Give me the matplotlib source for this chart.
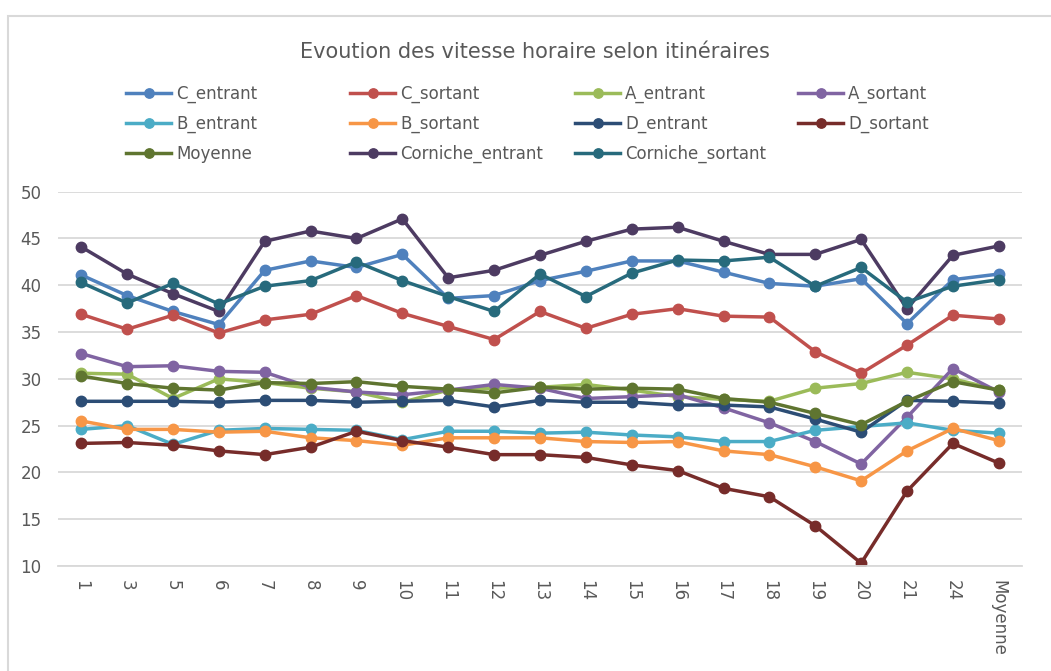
import matplotlib.pyplot as plt
from matplotlib.patches import Rectangle

# categories on the x axis
cats = ['1', '3', '5', '6', '7', '8', '9', '10', '11', '12', '13', '14',
        '15', '16', '17', '18', '19', '20', '21', '24', 'Moyenne']

C_entrant = [41.1, 38.9, 37.2, 35.8, 41.6, 42.6, 41.9, 43.3, 38.6, 38.9, 40.5,
             41.5, 42.6, 42.6, 41.4, 40.2, 39.9, 40.7, 35.9, 40.6, 41.2]
C_sortant = [36.9, 35.3, 36.8, 34.9, 36.3, 36.9, 38.9, 37.0, 35.6, 34.2, 37.2,
             35.4, 36.9, 37.5, 36.7, 36.6, 32.9, 30.6, 33.6, 36.8, 36.4]
A_entrant = [30.6, 30.5, 27.9, 30.0, 29.6, 29.0, 28.6, 27.5, 28.8, 29.0, 29.1,
             29.4, 28.8, 28.1, 27.8, 27.6, 29.0, 29.5, 30.7, 30.0, 28.8]
A_sortant = [32.7, 31.3, 31.4, 30.8, 30.7, 29.1, 28.6, 28.3, 28.8, 29.4, 29.0,
             27.9, 28.1, 28.3, 26.9, 25.3, 23.3, 20.9, 25.9, 31.1, 28.6]
B_entrant = [24.6, 25.0, 23.0, 24.5, 24.7, 24.6, 24.5, 23.5, 24.4, 24.4, 24.2,
             24.3, 24.0, 23.8, 23.3, 23.3, 24.5, 24.9, 25.3, 24.5, 24.2]
B_sortant = [25.5, 24.6, 24.6, 24.3, 24.4, 23.7, 23.4, 22.9, 23.7, 23.7, 23.7,
             23.3, 23.2, 23.3, 22.3, 21.9, 20.6, 19.1, 22.3, 24.7, 23.4]
D_entrant = [27.6, 27.6, 27.6, 27.5, 27.7, 27.7, 27.5, 27.6, 27.7, 27.0, 27.7,
             27.5, 27.5, 27.2, 27.2, 27.0, 25.7, 24.3, 27.7, 27.6, 27.4]
D_sortant = [23.1, 23.2, 22.9, 22.3, 21.9, 22.7, 24.4, 23.4, 22.7, 21.9, 21.9,
             21.6, 20.8, 20.2, 18.3, 17.4, 14.3, 10.3, 18.0, 23.1, 21.0]
Moyenne = [30.3, 29.5, 29.0, 28.8, 29.6, 29.5, 29.7, 29.2, 28.9, 28.5, 29.1,
           28.9, 29.0, 28.9, 27.9, 27.5, 26.3, 25.1, 27.6, 29.7, 28.8]
Corniche_entrant = [44.1, 41.2, 39.1, 37.2, 44.7, 45.8, 45.0, 47.1, 40.8, 41.6, 43.2,
                    44.7, 46.0, 46.2, 44.7, 43.3, 43.3, 44.9, 37.5, 43.2, 44.2]
Corniche_sortant = [40.3, 38.1, 40.2, 38.0, 39.9, 40.5, 42.5, 40.5, 38.8, 37.2, 41.2,
                    38.8, 41.3, 42.7, 42.6, 43.0, 39.9, 41.9, 38.2, 39.9, 40.6]

series = [
    ('C_entrant', C_entrant, '#4F81BD'),
    ('C_sortant', C_sortant, '#C0504D'),
    ('A_entrant', A_entrant, '#9BBB59'),
    ('A_sortant', A_sortant, '#8064A2'),
    ('B_entrant', B_entrant, '#4BACC6'),
    ('B_sortant', B_sortant, '#F79646'),
    ('D_entrant', D_entrant, '#2C4D75'),
    ('D_sortant', D_sortant, '#772C2A'),
    ('Moyenne', Moyenne, '#5F7530'),
    ('Corniche_entrant', Corniche_entrant, '#4D3B62'),
    ('Corniche_sortant', Corniche_sortant, '#276A7C'),
]

W, H = 1051, 671
fig = plt.figure(figsize=(W / 100, H / 100), dpi=100)
text_col = '#595959'
grid_col = '#D9D9D9'

# chart area border (only top and left visible in the crop)
fig.patches.append(Rectangle((8 / W, -0.1), 1.2, (H - 15.5) / H + 0.1,
                             transform=fig.transFigure, fill=False,
                             edgecolor=grid_col, lw=1.5))

ax = fig.add_axes([58.3 / W, 105 / H, 963.4 / W, (566 - 191.7) / H])
x = list(range(len(cats)))
handles = []
for name, vals, col in series:
    h, = ax.plot(x, vals, color=col, lw=2.5, marker='o', ms=7.5,
                 solid_joinstyle='round', label=name)
    handles.append(h)

ax.set_xlim(-0.5, len(cats) - 0.5)
ax.set_ylim(10, 50)
ax.set_yticks(range(10, 51, 5))
ax.set_xticks(x)
ax.set_xticklabels(cats, rotation=-90)
ax.grid(axis='y', color=grid_col, lw=1.3)
ax.set_axisbelow(True)
for s in ['top', 'right', 'left']:
    ax.spines[s].set_visible(False)
ax.spines['bottom'].set_color(grid_col)
ax.spines['bottom'].set_linewidth(1.3)
ax.tick_params(axis='both', length=0, labelsize=12, labelcolor=text_col)
ax.tick_params(axis='y', pad=12)
ax.tick_params(axis='x', pad=10)

fig.text(535 / W, 1 - 52 / H, 'Evoution des vitesse horaire selon itinéraires',
         ha='center', va='center', fontsize=15, color=text_col)

# legend: 4 equally spaced columns like Excel
col_x = [126, 350, 575, 798]
for c in range(4):
    hs = handles[c::4]
    leg = fig.legend(handles=hs, labels=[h.get_label() for h in hs],
                     loc='upper left', bbox_to_anchor=(col_x[c] / W, 1 - 85 / H),
                     frameon=False, fontsize=12, labelcolor=text_col,
                     handlelength=2.7, handletextpad=0.3, labelspacing=0.7,
                     borderpad=0, borderaxespad=0, numpoints=1, markerscale=0.9)

fig.savefig('out.png', dpi=100)
